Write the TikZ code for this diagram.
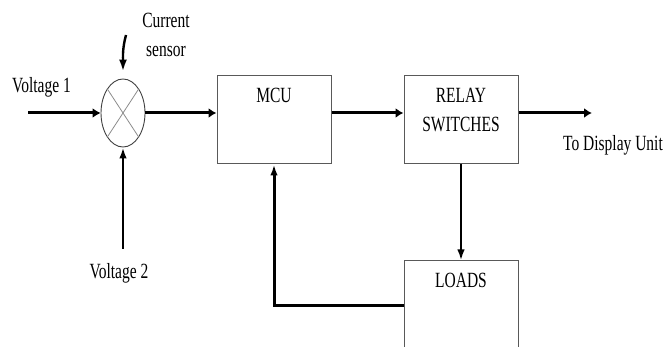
\documentclass[tikz,border=0pt]{standalone}
\usepackage{fontspec}
\setmainfont{Liberation Serif}
\usetikzlibrary{arrows.meta, positioning, shapes.geometric}

\tikzset{
    wire/.style={line width=3pt},
    harrow/.style={wire, -{Latex[length=8pt,width=10pt]}},
    varrow/.style={wire, -{Latex[length=11pt,width=7.5pt]}},
    block/.style={draw=black!65, line width=1pt, minimum width=114pt,
        minimum height=88pt, inner sep=0pt},
    txt/.style={font=\fontsize{15.5}{20.7}\selectfont, inner sep=0pt,
        yscale=1.4, align=center, anchor=north},
}

\begin{document}
\begin{tikzpicture}[x=1pt, y=-1pt]
    \useasboundingbox (0,0) rectangle (667,347);
    \clip (0,0) rectangle (667,347);

    % mixer and blocks
    \node[ellipse, draw=black!75, line width=0.9pt, minimum width=44pt,
        minimum height=68pt, inner sep=0pt] (sum) at (123,113) {};
    \draw[black!45, line width=0.8pt] (sum.north west) -- (sum.south east);
    \draw[black!45, line width=0.8pt] (sum.north east) -- (sum.south west);

    \node[block] (mcu) at (274,120) {};
    \node[block] (relay) at (461,120) {};
    \node[block, minimum height=90pt] (loads) at (461,306) {};

    % texts
    \node[txt] (mcutxt) at (274,88) {MCU};
    \node[txt] (relaytxt) at (461,88) {RELAY\\SWITCHES};
    \node[txt] (loadstxt) at (461,273) {LOADS};
    \node[txt] (v1txt) at (41.5,77) {Voltage 1};
    \node[txt] (v2txt) at (119,263) {Voltage 2};
    \node[txt] (cstxt) at (166,13) {Current\\sensor};
    \node[txt] (disptxt) at (613,135) {To Display Unit};

    \coordinate (v1) at (28,113);
    \coordinate (v2) at (123,249);
    \coordinate (cs) at (126,35);
    \coordinate (disp) at (592,113);

    % signal flow
    \draw[harrow] (v1) -- (sum.west);
    \draw[varrow, line width=2.6pt] (v2) -- (sum.south);
    \draw[wire, line width=2.4pt, -{Latex[length=12pt,width=8pt]}]
        (cs) to[out=-105, in=90] ([yshift=7pt]sum.north);
    \draw[harrow] (sum.east) -- (mcu.west |- sum.east);
    \draw[harrow] (mcu.east |- sum.east) -- (relay.west |- sum.east);
    \draw[harrow] (relay.east |- sum.east) -- (disp);
    \draw[varrow, line width=2.4pt] (relay.south) -- (loads.north);
    \draw[varrow] (loads.west) -| (mcu.south);
\end{tikzpicture}
\end{document}
